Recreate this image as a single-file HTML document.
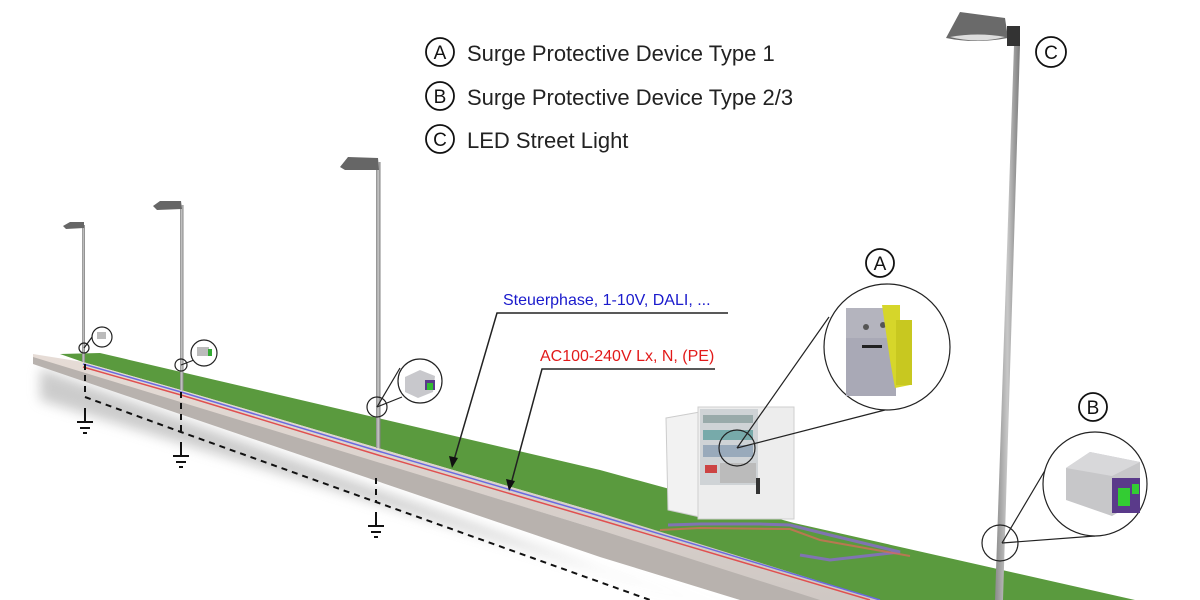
<!DOCTYPE html>
<html><head><meta charset="utf-8"><style>
html,body{margin:0;padding:0;background:#fff;width:1200px;height:600px;overflow:hidden}
svg{display:block}
text{font-family:"Liberation Sans",sans-serif}
</style></head><body>
<svg width="1200" height="600" viewBox="0 0 1200 600" xmlns="http://www.w3.org/2000/svg">
<defs>
<linearGradient id="pole" x1="0" x2="1"><stop offset="0" stop-color="#8a8a8a"/><stop offset="0.5" stop-color="#c8c8c8"/><stop offset="1" stop-color="#7a7a7a"/></linearGradient>
<linearGradient id="walk" x1="0" y1="0" x2="0" y2="1"><stop offset="0" stop-color="#e6dcd6"/><stop offset="1" stop-color="#cfc8c4"/></linearGradient>
<filter id="blur"><feGaussianBlur stdDeviation="6"/></filter>
</defs>
<!-- shadow -->
<polygon points="40,368 600,570 760,620 40,400" fill="#999" opacity="0.5" filter="url(#blur)"/>
<!-- grass -->
<polygon points="100,353 600,470 794,523 1135,600 1200,600 1200,620 860,600 600,513 378,448 181,390 83,362 60,354" fill="#5a9a3e"/>
<!-- sidewalk top -->
<polygon points="33,354 83,362 181,390 378,448 600,513 880,600 780,600 600,530 33,358" fill="url(#walk)"/>
<!-- curb front -->
<polygon points="33,357 600,530 820,600 740,600 600,557 33,364" fill="#b8b2ae"/>
<!-- cables -->
<polyline points="83,364 181,392 378,451 600,516 880,600" fill="none" stroke="#6a6ae0" stroke-width="1.5"/>
<polyline points="83,367 181,395 378,455 600,520 870,600" fill="none" stroke="#e05050" stroke-width="1.5"/>
<polyline points="668,525 700,524 760,524 790,525 830,535 900,552 830,560 800,555" fill="none" stroke="#8a6ad0" stroke-width="3" opacity="0.8"/>
<polyline points="660,530 700,528 790,529 820,540 910,556" fill="none" stroke="#e06a5a" stroke-width="2" opacity="0.7"/>
<!-- dashed ground -->
<g stroke="#111" stroke-width="2" stroke-dasharray="6,5" fill="none">
<polyline points="85,364 85,397 181,432 376,502 650,600"/>
<line x1="181" y1="392" x2="181" y2="432"/>
<line x1="376" y1="478" x2="376" y2="502"/>
</g>
<g stroke="#111" stroke-width="2" fill="none">
<path d="M85,408v14M77,422h16M80,428h10M83,433h4"/>
<path d="M181,442v14M173,456h16M176,462h10M179,467h4"/>
<path d="M376,512v14M368,526h16M371,532h10M374,537h4"/>
</g>
<!-- poles -->
<rect x="82" y="225" width="3" height="137" fill="url(#pole)"/>
<path d="M63,226 L70,222 L84,222 L84,228 L66,229Z" fill="#666"/>
<rect x="180" y="205" width="3.5" height="185" fill="url(#pole)"/>
<path d="M153,206 L160,201 L181,201 L182,209 L157,210Z" fill="#666"/>
<rect x="376" y="162" width="4.5" height="286" fill="url(#pole)"/>
<path d="M340,167 L348,157 L378,158 L379,170 L345,170Z" fill="#666"/>
<polygon points="1014,45 1020,45 1003,600 995,600" fill="url(#pole)"/>
<path d="M946,38 L960,12 L1005,18 L1008,38 Q975,44 946,38Z" fill="#6a6a6a"/>
<path d="M950,37 Q978,44 1005,37 Q978,32 950,37Z" fill="#ddd"/>
<rect x="1007" y="26" width="13" height="20" fill="#333"/>
<!-- cabinet -->
<polygon points="666,418 700,412 700,517 668,510" fill="#f2f2f2" stroke="#ccc"/>
<rect x="698" y="407" width="96" height="112" fill="#ededed" stroke="#cfcfcf"/>
<rect x="700" y="409" width="58" height="76" fill="#cfd3d6"/>
<rect x="703" y="415" width="50" height="8" fill="#9aa"/>
<rect x="703" y="430" width="50" height="10" fill="#7aa"/>
<rect x="703" y="445" width="50" height="12" fill="#9ab"/>
<rect x="705" y="465" width="12" height="8" fill="#c44"/>
<rect x="720" y="463" width="36" height="20" fill="#bbb"/>
<rect x="756" y="478" width="4" height="16" fill="#333"/>
<!-- legend -->
<g fill="none" stroke="#111" stroke-width="1.8">
<circle cx="440" cy="52" r="14"/><circle cx="440" cy="96" r="14"/><circle cx="440" cy="139" r="14"/>
<circle cx="1051" cy="52" r="15"/><circle cx="880" cy="263" r="14"/><circle cx="1093" cy="407" r="14"/>
</g>
<g font-size="19" fill="#111" text-anchor="middle">
<text x="440" y="59">A</text><text x="440" y="103">B</text><text x="440" y="146">C</text>
<text x="1051" y="59">C</text><text x="880" y="270">A</text><text x="1093" y="414">B</text>
</g>
<g font-size="22" fill="#222">
<text x="467" y="61">Surge Protective Device Type 1</text>
<text x="467" y="105">Surge Protective Device Type 2/3</text>
<text x="467" y="148">LED Street Light</text>
</g>
<!-- cable labels -->
<text x="503" y="305" font-size="16" fill="#1a1acc">Steuerphase, 1-10V, DALI, ...</text>
<text x="540" y="361" font-size="16" fill="#e21a1a">AC100-240V Lx, N, (PE)</text>
<g stroke="#222" stroke-width="1.5" fill="none">
<polyline points="728,313 497,313 454,460"/>
<polyline points="715,369 542,369 511,484"/>
</g>
<polygon points="452,468 449,456 458,458" fill="#111"/>
<polygon points="509,491 506,479 515,481" fill="#111"/>
<!-- magnifiers -->
<g stroke="#222" stroke-width="1.2" fill="#fff">
<line x1="84" y1="348" x2="95" y2="333"/><circle cx="84" cy="348" r="5" fill="none"/><circle cx="102" cy="337" r="10"/>
<line x1="181" y1="365" x2="194" y2="360"/><circle cx="181" cy="365" r="6" fill="none"/><circle cx="204" cy="353" r="13"/>
<line x1="377" y1="407" x2="402" y2="397"/><line x1="377" y1="407" x2="400" y2="368"/><circle cx="377" cy="407" r="10" fill="none"/><circle cx="420" cy="381" r="22"/>
<line x1="737" y1="448" x2="829" y2="317"/><line x1="737" y1="448" x2="885" y2="410"/><circle cx="737" cy="448" r="18" fill="none"/><circle cx="887" cy="347" r="63"/>
<line x1="1002" y1="543" x2="1050" y2="462"/><line x1="1002" y1="543" x2="1095" y2="536"/><circle cx="1000" cy="543" r="18" fill="none"/><circle cx="1095" cy="484" r="52"/>
</g>
<!-- small devices -->
<rect x="97" y="332" width="9" height="7" fill="#bbb"/>
<rect x="197" y="347" width="12" height="9" fill="#bbb"/><rect x="208" y="349" width="4" height="7" fill="#3a3"/>
<polygon points="405,377 420,370 435,376 433,392 418,398 405,392" fill="#c8c8cc"/><rect x="425" y="380" width="10" height="10" fill="#5a3a8a"/><rect x="427" y="383" width="6" height="7" fill="#3b3"/>
<!-- A device -->
<rect x="846" y="308" width="50" height="88" fill="#a9a9b6"/>
<rect x="846" y="308" width="50" height="30" fill="#b4b4be"/>
<circle cx="866" cy="327" r="3" fill="#555"/><circle cx="883" cy="325" r="3" fill="#555"/>
<rect x="862" y="345" width="20" height="3" fill="#222"/>
<polygon points="882,305 900,305 900,320 910,322 910,385 895,388 890,360" fill="#d6d62a"/>
<rect x="896" y="320" width="16" height="65" fill="#c8c820"/>
<!-- B device -->
<polygon points="1066,468 1090,452 1140,462 1140,500 1112,516 1066,500" fill="#c7c7c9"/>
<polygon points="1066,468 1090,452 1140,462 1112,476" fill="#d8d8da"/>
<rect x="1112" y="478" width="28" height="35" fill="#5a3a8a"/>
<rect x="1118" y="488" width="12" height="18" fill="#3c3"/><rect x="1132" y="484" width="7" height="10" fill="#3c3"/>
</svg>
</body></html>
